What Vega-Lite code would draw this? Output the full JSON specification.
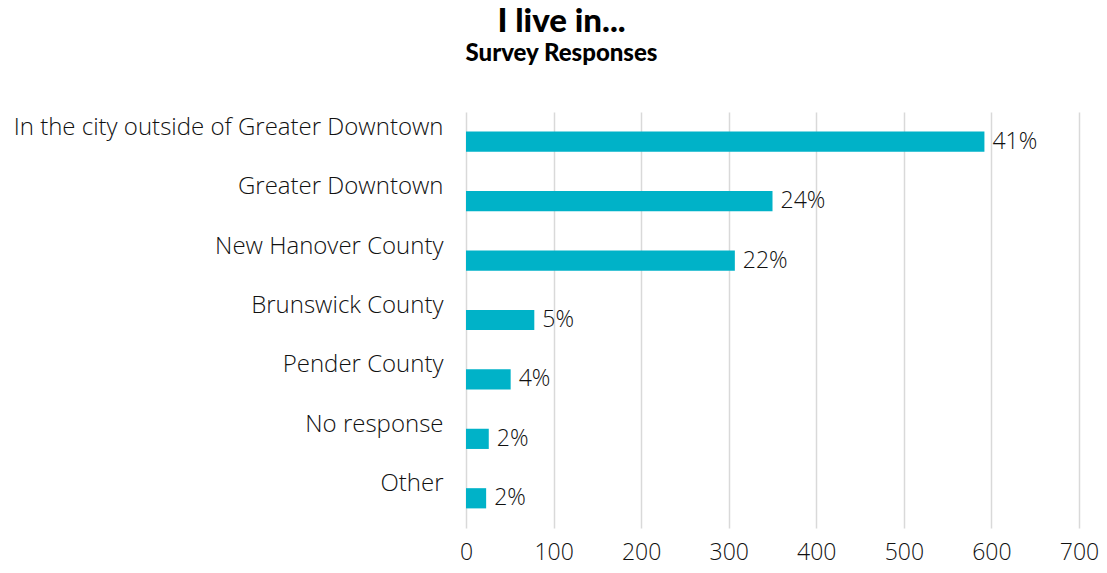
{
  "$schema": "https://vega.github.io/schema/vega-lite/v6.json",
  "width": 613,
  "height": 416,
  "autosize": {"type": "none"},
  "padding": {"left": 466, "top": 112, "right": 28, "bottom": 45},
  "background": "white",
  "title": {
    "text": "I live in...",
    "subtitle": "Survey Responses",
    "anchor": "middle",
    "frame": "group",
    "dx": -211,
    "offset": 46,
    "font": "Lato",
    "fontSize": 33,
    "fontWeight": 900,
    "color": "#000000",
    "subtitleFont": "Lato",
    "subtitleFontSize": 24,
    "subtitleFontWeight": 900,
    "subtitleColor": "#000000",
    "subtitlePadding": 3
  },
  "data": {
    "values": [
      {"place": "In the city outside of Greater Downtown", "count": 592, "pct": "41%"},
      {"place": "Greater Downtown", "count": 350, "pct": "24%"},
      {"place": "New Hanover County", "count": 307, "pct": "22%"},
      {"place": "Brunswick County", "count": 78, "pct": "5%"},
      {"place": "Pender County", "count": 51, "pct": "4%"},
      {"place": "No response", "count": 26, "pct": "2%"},
      {"place": "Other", "count": 23, "pct": "2%"}
    ]
  },
  "config": {
    "view": {"stroke": null},
    "font": "Open Sans"
  },
  "encoding": {
    "y": {
      "field": "place",
      "type": "nominal",
      "sort": null,
      "scale": {"paddingInner": 0.66, "paddingOuter": 0.33},
      "axis": {
        "title": null,
        "domain": false,
        "ticks": false,
        "labelFont": "Open Sans",
        "labelFontSize": 24,
        "labelFontWeight": 300,
        "labelColor": "#111111",
        "labelPadding": 23,
        "labelOffset": -14,
        "labelLimit": 600
      }
    },
    "x": {
      "field": "count",
      "type": "quantitative",
      "scale": {"domain": [0, 700], "nice": false},
      "axis": {
        "title": null,
        "values": [0, 100, 200, 300, 400, 500, 600, 700],
        "domain": false,
        "ticks": false,
        "grid": true,
        "gridColor": "#d9d9d9",
        "gridWidth": 1.5,
        "labelFont": "Open Sans",
        "labelFontSize": 23,
        "labelFontWeight": 300,
        "labelColor": "#111111",
        "labelPadding": 13,
        "labelFlush": false
      }
    }
  },
  "layer": [
    {"mark": {"type": "bar", "color": "#00B2C8"}},
    {
      "mark": {"type": "text", "align": "left", "baseline": "middle", "dx": 8, "fontSize": 23, "fontWeight": 300, "font": "Open Sans", "color": "#111111"},
      "encoding": {"text": {"field": "pct"}}
    }
  ]
}
